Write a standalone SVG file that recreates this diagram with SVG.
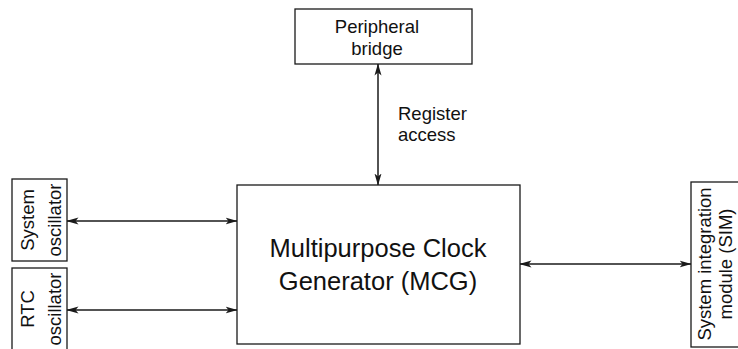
<svg xmlns="http://www.w3.org/2000/svg" width="738" height="349" viewBox="0 0 738 349">
<defs>
<style>
.box{fill:#fff;stroke:#1a1a1a;stroke-width:1.3}
.t{font-family:"Liberation Sans",Arial,sans-serif;font-size:18.5px;fill:#111}
.big{font-size:25.5px}
.c{stroke:#1a1a1a;stroke-width:1.5;fill:none;marker-start:url(#a);marker-end:url(#a)}
</style>
<marker id="a" viewBox="0 0 12 8" refX="11.5" refY="4" markerWidth="12" markerHeight="8" markerUnits="userSpaceOnUse" orient="auto-start-reverse">
<path d="M0,0.5 L12,4 L0,7.5 L3,4 Z" fill="#1a1a1a"/>
</marker>
</defs>
<rect width="738" height="349" fill="#fff"/>
<g id="connectors">
<line class="c" x1="378" y1="64" x2="378" y2="185"/>
<line class="c" x1="67" y1="221" x2="237" y2="221"/>
<line class="c" x1="67" y1="310" x2="237" y2="310"/>
<line class="c" x1="520" y1="264" x2="691" y2="264"/>
</g>
<g id="peripheral-bridge">
<rect class="box" x="295" y="9" width="177" height="55"/>
<text class="t" x="377" y="33" text-anchor="middle">Peripheral</text>
<text class="t" x="377" y="55" text-anchor="middle">bridge</text>
</g>
<g id="register-access-label">
<text class="t" x="398" y="120">Register</text>
<text class="t" x="398" y="141">access</text>
</g>
<g id="mcg">
<rect class="box" x="237" y="185" width="283" height="159"/>
<text class="t big" x="378" y="257" text-anchor="middle">Multipurpose Clock</text>
<text class="t big" x="378" y="290" text-anchor="middle">Generator (MCG)</text>
</g>
<g id="system-oscillator">
<rect class="box" x="12" y="179" width="55" height="82"/>
<text class="t" transform="translate(34,220) rotate(-90)" text-anchor="middle">System</text>
<text class="t" transform="translate(61,220) rotate(-90)" text-anchor="middle">oscillator</text>
</g>
<g id="rtc-oscillator">
<rect class="box" x="12" y="268" width="55" height="90"/>
<text class="t" transform="translate(34,309) rotate(-90)" text-anchor="middle">RTC</text>
<text class="t" transform="translate(61,309) rotate(-90)" text-anchor="middle">oscillator</text>
</g>
<g id="sim">
<rect class="box" x="691" y="182" width="60" height="165"/>
<text class="t" transform="translate(711,264) rotate(-90)" text-anchor="middle">System integration</text>
<text class="t" transform="translate(732,264) rotate(-90)" text-anchor="middle">module (SIM)</text>
</g>
</svg>
